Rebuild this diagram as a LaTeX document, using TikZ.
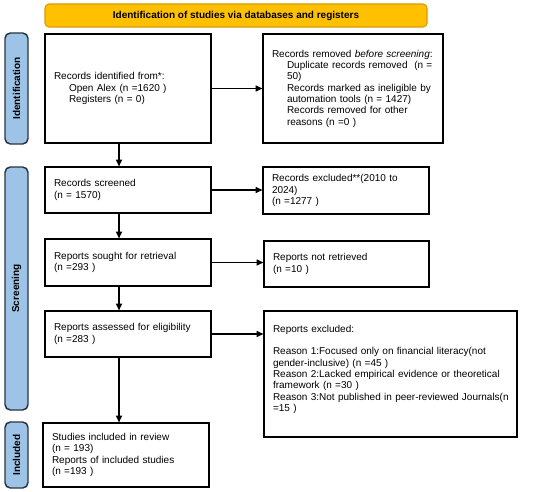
\documentclass[tikz,border=0pt]{standalone}
\usepackage{fontspec}
\setmainfont{Liberation Sans}
\usetikzlibrary{arrows.meta,calc}
\definecolor{bannerfill}{HTML}{FFC000}
\definecolor{bannerline}{HTML}{D99A00}
\definecolor{sidefill}{HTML}{9DC3E6}
\definecolor{sideline}{HTML}{2A3440}
\newcommand{\nohyph}{\hyphenpenalty=10000\relax\exhyphenpenalty=10000\relax}
\tikzset{
  base/.style={font=\fontsize{7.5}{8.5}\selectfont\nohyph},
  box/.style={base, draw=black, line width=0.9pt, fill=white, align=left, inner xsep=6.75pt, inner ysep=2pt},
  banner/.style={draw=bannerline, fill=bannerfill, line width=0.8pt, rounded corners=3pt,
    font=\fontsize{7.5}{8.5}\selectfont\bfseries, inner sep=0pt},
  sidebar/.style={draw=sideline, fill=sidefill, line width=1.1pt, rounded corners=4pt,
    font=\fontsize{7.5}{8.5}\selectfont\bfseries, inner sep=0pt},
  sidetext/.style={font=\fontsize{7.5}{8.5}\selectfont\bfseries, rotate=90},
  arr/.style={-{Triangle[length=5pt,width=4.5pt]}, line width=0.8pt, black}
}
\newcommand{\ind}{\hspace*{11.25pt}}
\begin{document}
\begin{tikzpicture}[x=0.75pt,y=-0.75pt]
\useasboundingbox (0,0) rectangle (550,492);
\fill[white] (0,0) rectangle (550,492);

\node[banner, minimum width=382*0.75pt, minimum height=23*0.75pt] (ban) at (236,15.5) {Identification of studies via databases and registers};

\node[sidebar, minimum width=23*0.75pt, minimum height=111*0.75pt] (sid) at (16.5,88.5) {};
\node[sidetext] (sidt) at (sid.center) {Identification};
\node[sidebar, minimum width=23*0.75pt, minimum height=243*0.75pt] (sscr) at (16.5,288.5) {};
\node[sidetext] (sscrt) at (sscr.center) {Screening};
\node[sidebar, minimum width=23*0.75pt, minimum height=66*0.75pt] (sinc) at (16.5,455) {};
\node[sidetext] (sinct) at (sinc.center) {Included};

\node[box, text width=148*0.75pt, minimum height=109*0.75pt] (b1) at (128,88.5)
 {Records identified from*:\\ \ind Open Alex (n =1620 )\\ \ind Registers (n = 0)};
\node[box, text width=162*0.75pt, minimum height=109*0.75pt] (b2) at (353,88.5)
 {Records removed \textit{before screening}:\\
  \ind Duplicate records removed\ \ (n =\\
  \ind 50)\\
  \ind Records marked as ineligible by\\
  \ind automation tools (n = 1427)\\
  \ind Records removed for other\\
  \ind reasons (n =0 )};

\node[box, text width=148*0.75pt, minimum height=46*0.75pt] (b3) at (128,190)
 {Records screened\\ (n = 1570)};
\node[box, text width=148*0.75pt, minimum height=47*0.75pt] (b4) at (346,190.5)
 {Records excluded**(2010 to\\ 2024)\\ (n =1277 )};

\node[box, text width=148*0.75pt, minimum height=47*0.75pt] (b5) at (128,262.5)
 {Reports sought for retrieval\\ (n =293 )};
\node[box, text width=147*0.75pt, minimum height=46*0.75pt] (b6) at (346.5,264)
 {Reports not retrieved\\ (n =10 )};

\node[box, text width=148*0.75pt, minimum height=46*0.75pt] (b7) at (128,334)
 {Reports assessed for eligibility\\ (n =283 )};
\node[box, text width=235*0.75pt, minimum height=126*0.75pt] (b8) at (390.5,374)
 {Reports excluded:\\[8.5pt]
  \mbox{Reason 1:Focused only on financial literacy(not}\\
  gender-inclusive) (n =45 )\\
  \mbox{Reason 2:Lacked empirical evidence or theoretical}\\
  framework (n =30 )\\
  \mbox{Reason 3:Not published in peer-reviewed Journals(n}\\
  =15 )\\ \mbox{}};

\node[box, text width=148*0.75pt, minimum height=64*0.75pt] (b9) at (126,455)
 {Studies included in review\\ (n = 193)\\ Reports of included studies\\ (n =193 )};

\coordinate (xa) at (119,0);
\draw[arr] (b1.east) -- (b2.west |- b1.east);
\draw[arr] (b1.south -| xa) -- (b3.north -| xa);
\draw[arr] (b3.east) -- (b4.west |- b3.east);
\draw[arr] (b3.south -| xa) -- (b5.north -| xa);
\draw[arr] (b5.east) -- (b6.west |- b5.east);
\draw[arr] (b5.south -| xa) -- (b7.north -| xa);
\draw[arr] (b7.east) -- (b8.west |- b7.east);
\draw[arr] (b7.south -| xa) -- (b9.north -| xa);
\end{tikzpicture}
\end{document}
